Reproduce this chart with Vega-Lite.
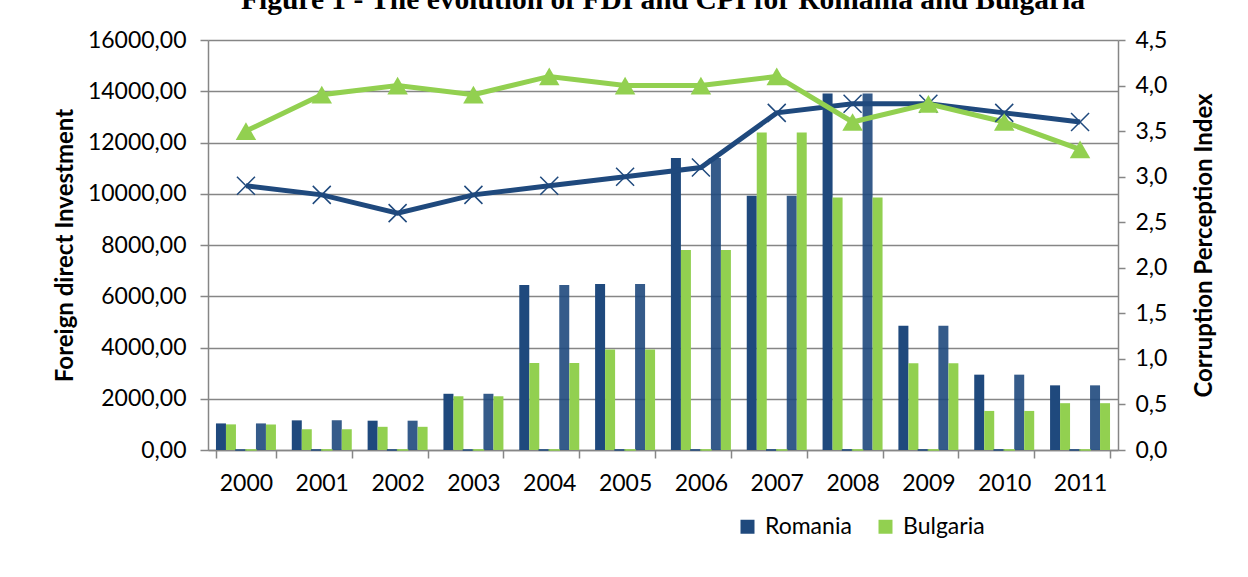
{
  "$schema": "https://vega.github.io/schema/vega-lite/v6.json",
  "width": 910,
  "height": 410,
  "autosize": {"type": "none"},
  "padding": {"left": 208, "top": 40, "right": 130, "bottom": 127},
  "background": "white",
  "title": {
    "text": "Figure 1 - The evolution of FDI and CPI for Romania and Bulgaria",
    "font": "Liberation Serif",
    "fontSize": 29.5,
    "fontWeight": "bold",
    "color": "black",
    "anchor": "middle",
    "offset": 14
  },
  "config": {
    "font": "Lato",
    "view": {"stroke": null},
    "axis": {
      "labelFont": "Lato",
      "labelFontSize": 23,
      "labelColor": "black",
      "titleFont": "Lato",
      "titleFontSize": 24,
      "titleFontWeight": "bold",
      "titleColor": "black",
      "domainColor": "#868686",
      "domainWidth": 1.5,
      "tickColor": "#868686",
      "tickWidth": 1.5,
      "gridColor": "#868686",
      "gridWidth": 1.5
    }
  },
  "datasets": {
    "fdi": [
      {"year": "2000", "country": "Romania", "slot": "Romania 1", "fdi": 1037},
      {"year": "2000", "country": "Bulgaria", "slot": "Bulgaria 1", "fdi": 1000},
      {"year": "2000", "country": "Romania", "slot": "Romania 2", "fdi": 1037},
      {"year": "2000", "country": "Bulgaria", "slot": "Bulgaria 2", "fdi": 1000},
      {"year": "2001", "country": "Romania", "slot": "Romania 1", "fdi": 1157},
      {"year": "2001", "country": "Bulgaria", "slot": "Bulgaria 1", "fdi": 810},
      {"year": "2001", "country": "Romania", "slot": "Romania 2", "fdi": 1157},
      {"year": "2001", "country": "Bulgaria", "slot": "Bulgaria 2", "fdi": 810},
      {"year": "2002", "country": "Romania", "slot": "Romania 1", "fdi": 1144},
      {"year": "2002", "country": "Bulgaria", "slot": "Bulgaria 1", "fdi": 905},
      {"year": "2002", "country": "Romania", "slot": "Romania 2", "fdi": 1144},
      {"year": "2002", "country": "Bulgaria", "slot": "Bulgaria 2", "fdi": 905},
      {"year": "2003", "country": "Romania", "slot": "Romania 1", "fdi": 2194},
      {"year": "2003", "country": "Bulgaria", "slot": "Bulgaria 1", "fdi": 2097},
      {"year": "2003", "country": "Romania", "slot": "Romania 2", "fdi": 2194},
      {"year": "2003", "country": "Bulgaria", "slot": "Bulgaria 2", "fdi": 2097},
      {"year": "2004", "country": "Romania", "slot": "Romania 1", "fdi": 6436},
      {"year": "2004", "country": "Bulgaria", "slot": "Bulgaria 1", "fdi": 3397},
      {"year": "2004", "country": "Romania", "slot": "Romania 2", "fdi": 6436},
      {"year": "2004", "country": "Bulgaria", "slot": "Bulgaria 2", "fdi": 3397},
      {"year": "2005", "country": "Romania", "slot": "Romania 1", "fdi": 6482},
      {"year": "2005", "country": "Bulgaria", "slot": "Bulgaria 1", "fdi": 3920},
      {"year": "2005", "country": "Romania", "slot": "Romania 2", "fdi": 6482},
      {"year": "2005", "country": "Bulgaria", "slot": "Bulgaria 2", "fdi": 3920},
      {"year": "2006", "country": "Romania", "slot": "Romania 1", "fdi": 11393},
      {"year": "2006", "country": "Bulgaria", "slot": "Bulgaria 1", "fdi": 7805},
      {"year": "2006", "country": "Romania", "slot": "Romania 2", "fdi": 11393},
      {"year": "2006", "country": "Bulgaria", "slot": "Bulgaria 2", "fdi": 7805},
      {"year": "2007", "country": "Romania", "slot": "Romania 1", "fdi": 9925},
      {"year": "2007", "country": "Bulgaria", "slot": "Bulgaria 1", "fdi": 12389},
      {"year": "2007", "country": "Romania", "slot": "Romania 2", "fdi": 9925},
      {"year": "2007", "country": "Bulgaria", "slot": "Bulgaria 2", "fdi": 12389},
      {"year": "2008", "country": "Romania", "slot": "Romania 1", "fdi": 13909},
      {"year": "2008", "country": "Bulgaria", "slot": "Bulgaria 1", "fdi": 9855},
      {"year": "2008", "country": "Romania", "slot": "Romania 2", "fdi": 13909},
      {"year": "2008", "country": "Bulgaria", "slot": "Bulgaria 2", "fdi": 9855},
      {"year": "2009", "country": "Romania", "slot": "Romania 1", "fdi": 4844},
      {"year": "2009", "country": "Bulgaria", "slot": "Bulgaria 1", "fdi": 3385},
      {"year": "2009", "country": "Romania", "slot": "Romania 2", "fdi": 4844},
      {"year": "2009", "country": "Bulgaria", "slot": "Bulgaria 2", "fdi": 3385},
      {"year": "2010", "country": "Romania", "slot": "Romania 1", "fdi": 2940},
      {"year": "2010", "country": "Bulgaria", "slot": "Bulgaria 1", "fdi": 1525},
      {"year": "2010", "country": "Romania", "slot": "Romania 2", "fdi": 2940},
      {"year": "2010", "country": "Bulgaria", "slot": "Bulgaria 2", "fdi": 1525},
      {"year": "2011", "country": "Romania", "slot": "Romania 1", "fdi": 2523},
      {"year": "2011", "country": "Bulgaria", "slot": "Bulgaria 1", "fdi": 1827},
      {"year": "2011", "country": "Romania", "slot": "Romania 2", "fdi": 2523},
      {"year": "2011", "country": "Bulgaria", "slot": "Bulgaria 2", "fdi": 1827}
    ],
    "cpi": [
      {"year": "2000", "country": "Romania", "slot": "Romania CPI", "cpi": 2.9},
      {"year": "2001", "country": "Romania", "slot": "Romania CPI", "cpi": 2.8},
      {"year": "2002", "country": "Romania", "slot": "Romania CPI", "cpi": 2.6},
      {"year": "2003", "country": "Romania", "slot": "Romania CPI", "cpi": 2.8},
      {"year": "2004", "country": "Romania", "slot": "Romania CPI", "cpi": 2.9},
      {"year": "2005", "country": "Romania", "slot": "Romania CPI", "cpi": 3.0},
      {"year": "2006", "country": "Romania", "slot": "Romania CPI", "cpi": 3.1},
      {"year": "2007", "country": "Romania", "slot": "Romania CPI", "cpi": 3.7},
      {"year": "2008", "country": "Romania", "slot": "Romania CPI", "cpi": 3.8},
      {"year": "2009", "country": "Romania", "slot": "Romania CPI", "cpi": 3.8},
      {"year": "2010", "country": "Romania", "slot": "Romania CPI", "cpi": 3.7},
      {"year": "2011", "country": "Romania", "slot": "Romania CPI", "cpi": 3.6},
      {"year": "2000", "country": "Bulgaria", "slot": "Bulgaria CPI", "cpi": 3.5},
      {"year": "2001", "country": "Bulgaria", "slot": "Bulgaria CPI", "cpi": 3.9},
      {"year": "2002", "country": "Bulgaria", "slot": "Bulgaria CPI", "cpi": 4.0},
      {"year": "2003", "country": "Bulgaria", "slot": "Bulgaria CPI", "cpi": 3.9},
      {"year": "2004", "country": "Bulgaria", "slot": "Bulgaria CPI", "cpi": 4.1},
      {"year": "2005", "country": "Bulgaria", "slot": "Bulgaria CPI", "cpi": 4.0},
      {"year": "2006", "country": "Bulgaria", "slot": "Bulgaria CPI", "cpi": 4.0},
      {"year": "2007", "country": "Bulgaria", "slot": "Bulgaria CPI", "cpi": 4.1},
      {"year": "2008", "country": "Bulgaria", "slot": "Bulgaria CPI", "cpi": 3.6},
      {"year": "2009", "country": "Bulgaria", "slot": "Bulgaria CPI", "cpi": 3.8},
      {"year": "2010", "country": "Bulgaria", "slot": "Bulgaria CPI", "cpi": 3.6},
      {"year": "2011", "country": "Bulgaria", "slot": "Bulgaria CPI", "cpi": 3.3}
    ]
  },
  "encoding": {
    "x": {
      "field": "year",
      "type": "nominal",
      "title": null,
      "scale": {"paddingInner": 0.209, "paddingOuter": 0.105},
      "axis": {
        "labelAngle": 0,
        "tickBand": "extent",
        "tickSize": 8,
        "labelPadding": 14,
        "grid": false
      }
    }
  },
  "layer": [
    {
      "layer": [
        {
          "data": {"name": "fdi"},
          "mark": {"type": "bar"},
          "encoding": {
            "xOffset": {
              "field": "slot",
              "type": "nominal",
              "scale": {
                "domain": ["Romania 1", "Bulgaria 1", "Romania CPI", "Bulgaria CPI", "Romania 2", "Bulgaria 2"],
                "paddingInner": 0,
                "paddingOuter": 0
              }
            },
            "y": {
              "field": "fdi",
              "type": "quantitative",
              "title": "Foreign direct Investment",
              "scale": {"domain": [0, 16000], "nice": false},
              "axis": {
                "values": [0, 2000, 4000, 6000, 8000, 10000, 12000, 14000, 16000],
                "labelExpr": "replace(format(datum.value, '.2f'), '.', ',')",
                "grid": true,
                "tickSize": 8,
                "labelPadding": 14,
                "titlePadding": 10
              }
            },
            "color": {
              "field": "country",
              "type": "nominal",
              "scale": {"domain": ["Romania", "Bulgaria"], "range": ["#1F497D", "#92D050"]},
              "legend": {
                "title": null,
                "orient": "none",
                "legendX": 528,
                "legendY": 475,
                "direction": "horizontal",
                "symbolType": "square",
                "symbolSize": 196,
                "symbolStrokeWidth": 0,
                "labelFont": "Lato",
                "labelFontSize": 23,
                "labelColor": "black",
                "labelOffset": 6,
                "columnPadding": 22,
                "padding": 0
              }
            },
            "opacity": {
              "condition": {"test": "datum.slot === 'Romania 2'", "value": 0.9},
              "value": 1
            }
          }
        },
        {
          "data": {"name": "cpi"},
          "mark": {"type": "bar", "strokeWidth": 1.5},
          "encoding": {
            "xOffset": {"field": "slot", "type": "nominal"},
            "y": {"field": "cpi", "type": "quantitative"},
            "color": {"field": "country", "type": "nominal"},
            "stroke": {
              "field": "country",
              "type": "nominal",
              "scale": {"domain": ["Romania", "Bulgaria"], "range": ["#1F497D", "#92D050"]},
              "legend": null
            }
          }
        }
      ]
    },
    {
      "layer": [
        {
          "data": {"name": "cpi"},
          "mark": {"type": "line", "strokeWidth": 5},
          "encoding": {
            "y": {
              "field": "cpi",
              "type": "quantitative",
              "title": "Corruption Perception Index",
              "scale": {"domain": [0, 4.5], "nice": false},
              "axis": {
                "orient": "right",
                "values": [0, 0.5, 1, 1.5, 2, 2.5, 3, 3.5, 4, 4.5],
                "labelExpr": "replace(format(datum.value, '.1f'), '.', ',')",
                "grid": false,
                "tickSize": 7,
                "labelPadding": 10,
                "titleAngle": 270,
                "titleBaseline": "top",
                "titlePadding": 26
              }
            },
            "stroke": {"field": "country", "type": "nominal", "legend": null}
          }
        },
        {
          "data": {"name": "cpi"},
          "transform": [{"filter": "datum.country === 'Romania'"}],
          "mark": {
            "type": "point",
            "shape": "M-1,-1L1,1M1,-1L-1,1",
            "filled": false,
            "size": 324,
            "strokeWidth": 1.5,
            "color": "#1F497D",
            "opacity": 1
          },
          "encoding": {"y": {"field": "cpi", "type": "quantitative"}}
        },
        {
          "data": {"name": "cpi"},
          "transform": [{"filter": "datum.country === 'Bulgaria'"}],
          "mark": {
            "type": "point",
            "shape": "triangle-up",
            "filled": true,
            "size": 420,
            "color": "#92D050",
            "opacity": 1
          },
          "encoding": {"y": {"field": "cpi", "type": "quantitative"}}
        }
      ]
    }
  ],
  "resolve": {"scale": {"y": "independent"}}
}
